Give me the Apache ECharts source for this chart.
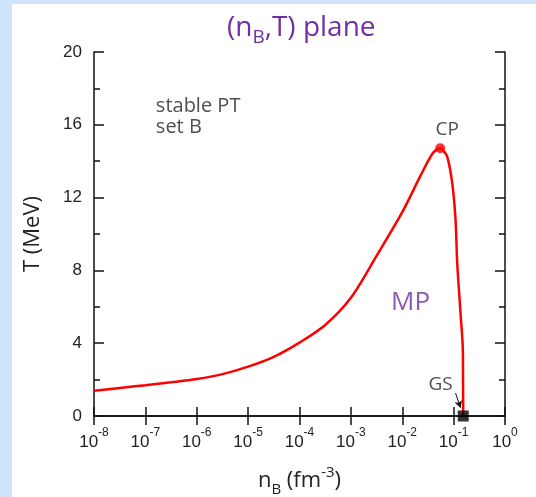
<!DOCTYPE html>
<html>
<head>
<meta charset="utf-8">
<script src="https://cdn.jsdelivr.net/npm/echarts@6/dist/echarts.min.js"></script>
<style>
html,body{margin:0;padding:0;background:#cfe3fa;overflow:hidden;}
#c{width:536px;height:497px;}
</style>
</head>
<body>
<div id="c"></div>
<script>
// Data
const nB = [1e-8, 3.16e-8, 1e-7, 3.16e-7, 1e-6, 3.16e-6, 1e-5, 3.16e-5, 1e-4, 3.16e-4, 1e-3, 3.16e-3, 1e-2, 0.0222, 0.0395, 0.0547, 0.062, 0.075, 0.0939, 0.1089, 0.1175, 0.1363, 0.1511, 0.1525, 0.1538];
const T  = [1.39, 1.54, 1.69, 1.85, 2.03, 2.3, 2.71, 3.25, 4.03, 5.0, 6.5, 8.8, 11.2, 13.15, 14.45, 14.71, 14.6, 14.25, 12.8, 10.8, 8.39, 5.64, 3.63, 1.8, 0];
const cp = [0.0547, 14.71];
const gs = [0.1538, 0];
const xTickExponents = [-8, -7, -6, -5, -4, -3, -2, -1, 0];
const yTicks = [0, 4, 8, 12, 16, 20];

const labelFont = 'Liberation Sans';
const textFont = 'Open Sans';

const chart = echarts.init(document.getElementById('c'), null, {renderer:'canvas'});
const lineData = nB.map((n, i) => [n, T[i]]);

const axisBlack = {color:'#111', width:1.5};

const option = {
  animation: false,
  backgroundColor: 'transparent',
  graphic: [{type:'rect', shape:{x:12, y:4, width:524, height:493}, style:{fill:'#ffffff'}, z:-10}],
  title: {
    text: '{a|(n}{s|B}{a|,T) plane}',
    left: 222, top: 4,
    textStyle: {
      rich: {
        a: {fontFamily:textFont, fontWeight:'normal', fontSize:28, color:'#7030a0', lineHeight:38, verticalAlign:'middle'},
        s: {fontFamily:textFont, fontWeight:'normal', fontSize:19, color:'#7030a0', lineHeight:19, verticalAlign:'bottom'}
      }
    }
  },
  grid: {left:94, right:31, top:52, bottom:81, outerBoundsMode:'none', containLabel:false},
  xAxis: [{
    type:'log', logBase:10, min:1e-8, max:1, position:'bottom',
    axisLine:{show:true, lineStyle:axisBlack},
    axisTick:{show:true, inside:true, length:9, lineStyle:axisBlack},
    minorTick:{show:false},
    splitLine:{show:false},
    axisLabel:{
      margin:11,
      formatter: v => {
        const e = Math.round(Math.log10(v));
        return xTickExponents.includes(e) ? '{b|10}{p|' + e + '}' : '';
      },
      rich:{
        b:{fontFamily:labelFont, fontSize:17, color:'#222', lineHeight:24, verticalAlign:'bottom'},
        p:{fontFamily:labelFont, fontSize:12, color:'#222', lineHeight:12, verticalAlign:'top'}
      }
    },
    name:'{m|n}{s|B}{m| (fm}{p|-3}{m|)}',
    nameLocation:'middle', nameGap:49,
    nameTextStyle:{
      rich:{
        m:{fontFamily:textFont, fontSize:22, color:'#222', lineHeight:32, verticalAlign:'middle'},
        s:{fontFamily:textFont, fontSize:15, color:'#222', lineHeight:15, verticalAlign:'bottom'},
        p:{fontFamily:textFont, fontSize:15, color:'#222', lineHeight:15, verticalAlign:'top'}
      }
    }
  },{
    type:'log', logBase:10, min:1e-8, max:1, position:'top',
    axisLine:{show:true, lineStyle:axisBlack},
    axisTick:{show:true, inside:true, length:9, lineStyle:axisBlack},
    axisLabel:{show:false}, splitLine:{show:false}
  }],
  yAxis: [{
    type:'value', min:0, max:20, interval:4, position:'left',
    axisLine:{show:true, lineStyle:axisBlack},
    axisTick:{show:true, inside:true, length:10, lineStyle:axisBlack},
    minorTick:{show:true, splitNumber:2, length:6, lineStyle:axisBlack},
    splitLine:{show:false},
    axisLabel:{fontFamily:labelFont, fontSize:17, color:'#222', margin:12,
      formatter: v => yTicks.includes(v) ? String(v) : ''},
    name:'T (MeV)', nameLocation:'middle', nameGap:50, nameRotate:90,
    nameTextStyle:{fontFamily:textFont, fontSize:22, color:'#222'}
  },{
    type:'value', min:0, max:20, interval:4, position:'right',
    axisLine:{show:true, lineStyle:axisBlack},
    axisTick:{show:true, inside:true, length:10, lineStyle:axisBlack},
    minorTick:{show:true, splitNumber:2, length:6, lineStyle:axisBlack},
    splitLine:{show:false}, axisLabel:{show:false}
  }],
  series: [
    {
      type:'line', data:lineData, smooth:0.3, showSymbol:false,
      lineStyle:{color:'#ff0000', width:2.5}, z:3,
      markLine:{
        silent:true, symbol:['none','arrow'], symbolSize:[6,7],
        lineStyle:{color:'#111', width:1, type:'solid'}, label:{show:false},
        data:[[{coord:[0.109, 1.26]}, {coord:[0.136, 0.45]}]]
      }
    },
    {
      type:'scatter', data:[cp], symbol:'circle', symbolSize:10,
      itemStyle:{color:'#ff0000'}, z:4,
      label:{show:true, position:'top', distance:4, offset:[7,0], formatter:'CP',
        fontFamily:textFont, fontSize:19, color:'#222'}
    },
    {
      type:'scatter', data:[gs], symbol:'rect', symbolSize:11, clip:false,
      itemStyle:{color:'#000'}, z:5
    },
    {
      type:'scatter', data:[[0.0556, 1.75]], symbolSize:0, z:4,
      label:{show:true, position:'inside', formatter:'GS', fontFamily:textFont, fontSize:19, color:'#222'}
    },
    {
      type:'scatter', data:[[0.0145, 6.25]], symbolSize:0, z:4,
      label:{show:true, position:'inside', formatter:'MP', fontFamily:textFont, fontSize:26, color:'#7030a0'}
    },
    {
      type:'scatter', data:[[1.6e-7, 16.45]], symbolSize:0, z:4,
      label:{show:true, position:'right', distance:0, formatter:'stable PT\nset B', lineHeight:21,
        fontFamily:textFont, fontSize:20, color:'#222', align:'left'}
    }
  ]
};
chart.setOption(option);
</script>
</body>
</html>
